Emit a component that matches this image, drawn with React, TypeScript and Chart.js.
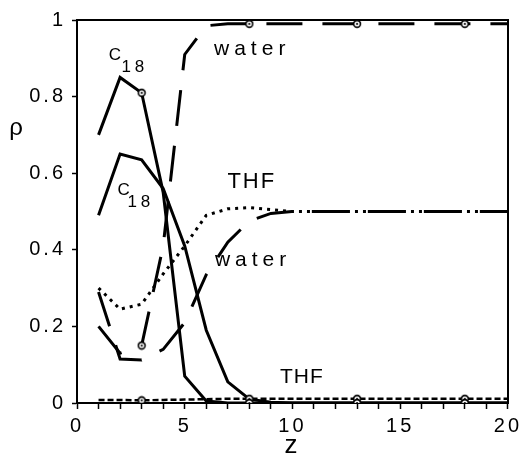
import React, { useEffect, useRef } from 'react';
import { Chart, registerables } from 'chart.js';

Chart.register(...registerables);

// ---- data (z = 1 .. 20) ----
const zValues = [1, 2, 3, 4, 5, 6, 7, 8, 9, 10, 11, 12, 13, 14, 15, 16, 17, 18, 19, 20];

// series with circle markers (outer set)
const c18Outer = [0.70, 0.85, 0.81, 0.55, 0.07, 0.005, 0, 0, 0, 0, 0, 0, 0, 0, 0, 0, 0, 0, 0, 0];
const waterOuter = [0.20, 0.13, 0.15, 0.41, 0.91, 0.985, 0.99, 0.99, 0.99, 0.99, 0.99, 0.99, 0.99, 0.99, 0.99, 0.99, 0.99, 0.99, 0.99, 0.99];
const thfOuter = [0.008, 0.008, 0.007, 0.008, 0.009, 0.01, 0.011, 0.011, 0.011, 0.011, 0.011, 0.011, 0.011, 0.011, 0.011, 0.011, 0.011, 0.011, 0.011, 0.011];

// series without markers (inner set)
const c18Inner = [0.49, 0.65, 0.635, 0.56, 0.41, 0.19, 0.055, 0.01, 0.002, 0, 0, 0, 0, 0, 0, 0, 0, 0, 0, 0];
const waterInner = [0.29, 0.115, 0.112, 0.14, 0.21, 0.335, 0.42, 0.475, 0.495, 0.5, 0.5, 0.5, 0.5, 0.5, 0.5, 0.5, 0.5, 0.5, 0.5, 0.5];
const thfInner = [0.30, 0.245, 0.258, 0.337, 0.41, 0.49, 0.507, 0.51, 0.505, 0.5, 0.5, 0.5, 0.5, 0.5, 0.5, 0.5, 0.5, 0.5, 0.5, 0.5];

const markerZ = [3, 8, 13, 18];

const xTickLabels = ['0', '5', '10', '15', '20'];
const yTickLabels = ['0', '0.2', '0.4', '0.6', '0.8', '1'];

const xTitle = 'z';
const yTitle = 'ρ';

const FONT = "'Liberation Sans', Arial, Helvetica, sans-serif";

function makeMarker(): HTMLCanvasElement {
  const c = document.createElement('canvas');
  c.width = 10;
  c.height = 10;
  const g = c.getContext('2d')!;
  g.fillStyle = '#fff';
  g.strokeStyle = '#000';
  g.lineWidth = 1.6;
  g.beginPath();
  g.arc(5, 5, 3.4, 0, Math.PI * 2);
  g.fill();
  g.stroke();
  g.fillStyle = '#000';
  g.beginPath();
  g.arc(5, 5, 1.1, 0, Math.PI * 2);
  g.fill();
  return c;
}

const toPoints = (vals: number[]) => zValues.map((z, i) => ({ x: z, y: vals[i] }));

const spacingPlugin = {
  id: 'letterSpacing',
  beforeUpdate(chart: any) {
    chart.ctx.letterSpacing = '3px';
  },
  beforeDraw(chart: any) {
    chart.ctx.letterSpacing = '3px';
  },
};

type Note = { text: string; z: number; r: number; size: number; spacing: number };
const notes: Note[] = [
  { text: 'C', z: 1.47, r: 0.896, size: 17, spacing: 0 },
  { text: '18', z: 2.06, r: 0.864, size: 17, spacing: 4 },
  { text: 'C', z: 1.88, r: 0.543, size: 17, spacing: 0 },
  { text: '18', z: 2.34, r: 0.512, size: 17, spacing: 4 },
  { text: 'water', z: 6.36, r: 0.909, size: 21, spacing: 5 },
  { text: 'water', z: 6.4, r: 0.358, size: 21, spacing: 5 },
  { text: 'THF', z: 6.98, r: 0.561, size: 22, spacing: 2 },
  { text: 'THF', z: 9.42, r: 0.052, size: 21, spacing: 1 },
];

const notesPlugin = {
  id: 'notes',
  afterDatasetsDraw(chart: any) {
    const { ctx } = chart;
    const xs = chart.scales.x;
    const ys = chart.scales.y;
    ctx.save();
    ctx.fillStyle = '#000';
    ctx.textAlign = 'left';
    ctx.textBaseline = 'alphabetic';
    for (const n of notes) {
      ctx.font = `${n.size}px ${FONT}`;
      ctx.letterSpacing = `${n.spacing}px`;
      ctx.fillText(n.text, xs.getPixelForValue(n.z), ys.getPixelForValue(n.r));
    }
    // y axis title (unrotated)
    ctx.font = `24px ${FONT}`;
    ctx.letterSpacing = '0px';
    ctx.textAlign = 'center';
    ctx.textBaseline = 'middle';
    ctx.fillText(yTitle, 16, 128);
    ctx.restore();
  },
};

export default function App() {
  const ref = useRef<HTMLCanvasElement | null>(null);

  useEffect(() => {
    if (!ref.current) return;
    const marker = makeMarker();
    const markerRadius = (c: any) => {
      const x = c && c.parsed ? c.parsed.x : undefined;
      return markerZ.includes(x) ? 4 : 0;
    };
    const base = {
      borderColor: '#000',
      backgroundColor: '#000',
      tension: 0,
      fill: false,
      pointRadius: 0,
      pointHoverRadius: 0,
    };
    const outer = {
      pointStyle: marker,
      pointRadius: markerRadius,
    };

    const chart = new Chart(ref.current, {
      type: 'line',
      data: {
        datasets: [
          { ...base, ...outer, label: 'C18 (a)', data: toPoints(c18Outer), borderWidth: 3 },
          { ...base, ...outer, label: 'water (a)', data: toPoints(waterOuter), borderWidth: 3, borderDash: [36, 20] },
          { ...base, ...outer, label: 'THF (a)', data: toPoints(thfOuter), borderWidth: 2.5, borderDash: [6, 3] },
          { ...base, label: 'C18 (b)', data: toPoints(c18Inner), borderWidth: 3 },
          { ...base, label: 'water (b)', data: toPoints(waterInner), borderWidth: 3, borderDash: [36, 20] },
          { ...base, label: 'THF (b)', data: toPoints(thfInner), borderWidth: 3, borderDash: [3, 5] },
        ] as any,
      },
      options: {
        responsive: false,
        animation: false,
        events: [],
        layout: { padding: { top: 20, right: 14, left: 0, bottom: 0 } },
        plugins: {
          legend: { display: false },
          tooltip: { enabled: false },
        },
        scales: {
          x: {
            type: 'linear',
            position: 'bottom',
            min: 0,
            max: 20,
            ticks: {
              stepSize: 1,
              autoSkip: false,
              maxRotation: 0,
              color: '#000',
              padding: 5,
              font: { family: FONT, size: 20 },
              callback: (v: any) => {
                const s = String(v);
                return xTickLabels.includes(s) ? s : '';
              },
            },
            grid: {
              drawOnChartArea: false,
              drawTicks: true,
              tickLength: 6,
              tickWidth: 1.5,
              tickColor: '#000',
            },
            border: { display: true, color: '#000', width: 2 },
            title: {
              display: true,
              text: xTitle,
              color: '#000',
              font: { family: FONT, size: 26, lineHeight: 1 },
              padding: { top: 0, bottom: 0 },
            },
            afterFit: (s: any) => {
              s.height = 56;
            },
          },
          y: {
            type: 'linear',
            position: 'left',
            min: 0,
            max: 1,
            ticks: {
              stepSize: 0.2,
              color: '#000',
              padding: 6,
              font: { family: FONT, size: 20 },
              callback: (v: any) => {
                const s = String(Number(Number(v).toFixed(1)));
                return yTickLabels.includes(s) ? s : '';
              },
            },
            grid: {
              drawOnChartArea: false,
              drawTicks: true,
              tickLength: 5,
              tickWidth: 1.5,
              tickColor: '#000',
            },
            border: { display: true, color: '#000', width: 2 },
            afterFit: (s: any) => {
              s.width = 77;
            },
          },
          x2: {
            type: 'linear',
            position: 'top',
            min: 0,
            max: 20,
            display: true,
            ticks: { display: false },
            grid: { display: false, drawTicks: false },
            border: { display: true, color: '#000', width: 2 },
            afterFit: (s: any) => {
              s.height = 0;
            },
          },
          y2: {
            type: 'linear',
            position: 'right',
            min: 0,
            max: 1,
            display: true,
            ticks: { display: false },
            grid: { display: false, drawTicks: false },
            border: { display: true, color: '#000', width: 2 },
            afterFit: (s: any) => {
              s.width = 0;
            },
          },
        },
      } as any,
      plugins: [spacingPlugin, notesPlugin],
    });

    return () => chart.destroy();
  }, []);

  return (
    <div style={{ position: 'fixed', left: 0, top: 0, width: 527, height: 459, background: '#fff' }}>
      <canvas ref={ref} width={527} height={459} style={{ display: 'block' }} />
    </div>
  );
}
